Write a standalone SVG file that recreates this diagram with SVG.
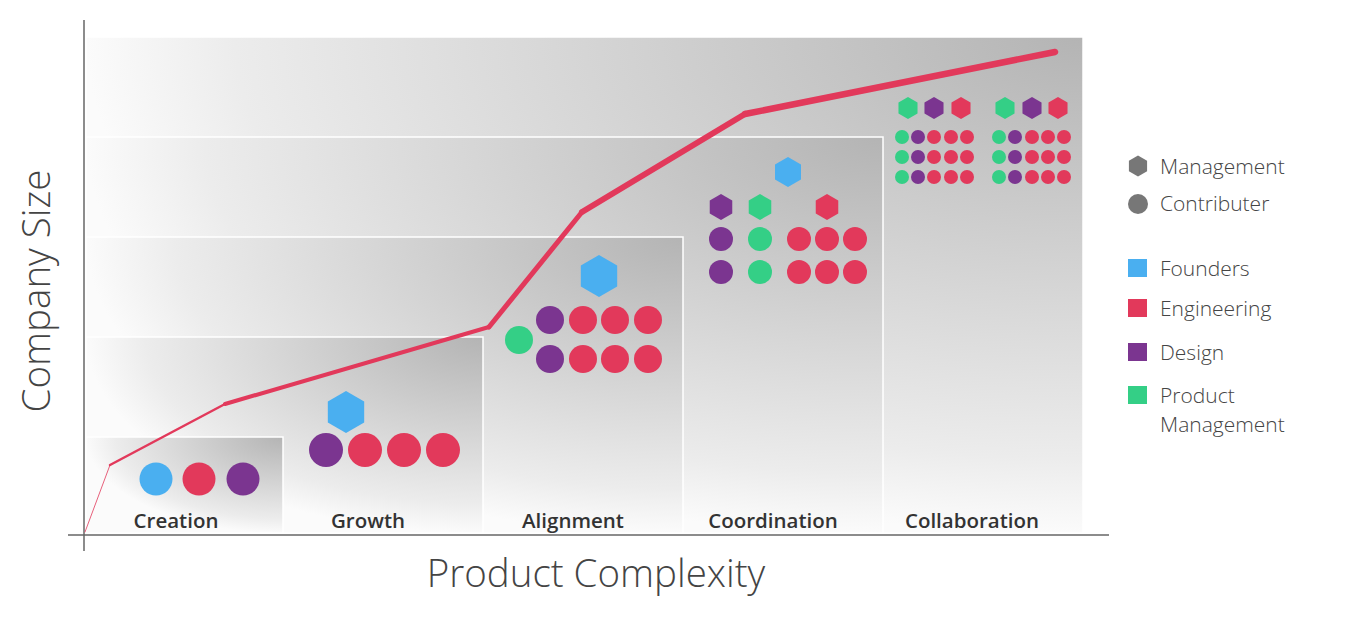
<svg xmlns="http://www.w3.org/2000/svg" width="1352" height="624" viewBox="0 0 1352 624">
<style>
.step{stroke:#fff;stroke-width:1.5}
.lbl{font-family:"Open Sans","Liberation Sans",sans-serif;font-weight:600;font-size:20.5px;fill:#333;text-anchor:middle}
.axis{font-family:"Open Sans","Liberation Sans",sans-serif;font-weight:300;font-size:38.5px;fill:#444;text-anchor:middle}
.leg{font-family:"Open Sans","Liberation Sans",sans-serif;font-weight:300;font-size:21px;fill:#444}
.b{fill:#4aaff0}.r{fill:#e2395b}.p{fill:#7b3590}.g{fill:#34cf86}.gr{fill:#777}
.curve{fill:none;stroke:#e2395b;stroke-linecap:round;stroke-linejoin:round}
</style>
<defs>
<radialGradient id="sg" cx="1" cy="0" fx="1" fy="0" r="1">
<stop offset="0" stop-color="#b4b4b4"/>
<stop offset="0.5" stop-color="#d5d5d5"/>
<stop offset="0.85" stop-color="#ececec"/>
<stop offset="1" stop-color="#fbfbfb"/>
</radialGradient>
<polygon id="hx" points="0,-1 0.866,-0.5 0.866,0.5 0,1 -0.866,0.5 -0.866,-0.5"/>
</defs>
<rect width="1352" height="624" fill="#fff"/>

<g id="steps">
<rect class="step" x="86" y="37" width="997" height="496" fill="url(#sg)"/>
<rect class="step" x="86" y="137" width="797" height="396" fill="url(#sg)"/>
<rect class="step" x="86" y="237" width="597" height="296" fill="url(#sg)"/>
<rect class="step" x="86" y="337" width="397" height="196" fill="url(#sg)"/>
<rect class="step" x="86" y="437" width="197" height="96" fill="url(#sg)"/>
</g>

<g id="axes" stroke="#666" stroke-width="1.5">
<line x1="84" y1="20" x2="84" y2="551"/>
<line x1="68" y1="535" x2="1109" y2="535"/>
</g>

<g id="connectors">
<path class="curve" d="M85,532 L110,465" stroke-width="1" opacity="0.8"/>
<path class="curve" d="M110,465 L225,404" stroke-width="2.5"/>
<path class="curve" d="M225,404 L489,327" stroke-width="4"/>
<path class="curve" d="M489,327 L582,212" stroke-width="5"/>
<path class="curve" d="M582,212 L745,114" stroke-width="6"/>
<path class="curve" d="M745,114 L1055,52" stroke-width="6.5"/>
</g>

<g id="creation">
<circle class="b" cx="156" cy="479" r="16.5"/>
<circle class="r" cx="199" cy="479" r="16.5"/>
<circle class="p" cx="243" cy="479" r="16.5"/>
<text class="lbl" x="176" y="528">Creation</text>
</g>

<g id="growth">
<use href="#hx" class="b" transform="translate(346,412) scale(21)"/>
<circle class="p" cx="326" cy="450" r="17"/>
<circle class="r" cx="365" cy="450" r="17"/>
<circle class="r" cx="404" cy="450" r="17"/>
<circle class="r" cx="443" cy="450" r="17"/>
<text class="lbl" x="368" y="528">Growth</text>
</g>

<g id="alignment">
<use href="#hx" class="b" transform="translate(599,276) scale(21)"/>
<circle class="g" cx="519" cy="340" r="14"/>
<circle class="p" cx="550" cy="320" r="14"/>
<circle class="r" cx="583" cy="320" r="14"/>
<circle class="r" cx="615" cy="320" r="14"/>
<circle class="r" cx="648" cy="320" r="14"/>
<circle class="p" cx="550" cy="359" r="14"/>
<circle class="r" cx="583" cy="359" r="14"/>
<circle class="r" cx="615" cy="359" r="14"/>
<circle class="r" cx="648" cy="359" r="14"/>
<text class="lbl" x="573" y="528">Alignment</text>
</g>

<g id="coordination">
<use href="#hx" class="b" transform="translate(788,172) scale(15)"/>
<use href="#hx" class="p" transform="translate(721,207) scale(13)"/>
<use href="#hx" class="g" transform="translate(760,207) scale(13)"/>
<use href="#hx" class="r" transform="translate(827,207) scale(13)"/>
<circle class="p" cx="721" cy="239" r="12"/>
<circle class="g" cx="760" cy="239" r="12"/>
<circle class="r" cx="799" cy="239" r="12"/>
<circle class="r" cx="827" cy="239" r="12"/>
<circle class="r" cx="855" cy="239" r="12"/>
<circle class="p" cx="721" cy="272" r="12"/>
<circle class="g" cx="760" cy="272" r="12"/>
<circle class="r" cx="799" cy="272" r="12"/>
<circle class="r" cx="827" cy="272" r="12"/>
<circle class="r" cx="855" cy="272" r="12"/>
<text class="lbl" x="773" y="528">Coordination</text>
</g>

<g id="collaboration">
<use href="#hx" class="g" transform="translate(908,108) scale(11)"/>
<use href="#hx" class="p" transform="translate(934,108) scale(11)"/>
<use href="#hx" class="r" transform="translate(961,108) scale(11)"/>
<use href="#hx" class="g" transform="translate(1005,108) scale(11)"/>
<use href="#hx" class="p" transform="translate(1032,108) scale(11)"/>
<use href="#hx" class="r" transform="translate(1058,108) scale(11)"/>
<g id="collab-left">
<circle class="g" cx="902" cy="137" r="7"/><circle class="p" cx="918" cy="137" r="7"/><circle class="r" cx="934" cy="137" r="7"/><circle class="r" cx="951" cy="137" r="7"/><circle class="r" cx="967" cy="137" r="7"/>
<circle class="g" cx="902" cy="157" r="7"/><circle class="p" cx="918" cy="157" r="7"/><circle class="r" cx="934" cy="157" r="7"/><circle class="r" cx="951" cy="157" r="7"/><circle class="r" cx="967" cy="157" r="7"/>
<circle class="g" cx="902" cy="177" r="7"/><circle class="p" cx="918" cy="177" r="7"/><circle class="r" cx="934" cy="177" r="7"/><circle class="r" cx="951" cy="177" r="7"/><circle class="r" cx="967" cy="177" r="7"/>
</g>
<g id="collab-right">
<circle class="g" cx="999" cy="137" r="7"/><circle class="p" cx="1015" cy="137" r="7"/><circle class="r" cx="1032" cy="137" r="7"/><circle class="r" cx="1048" cy="137" r="7"/><circle class="r" cx="1064" cy="137" r="7"/>
<circle class="g" cx="999" cy="157" r="7"/><circle class="p" cx="1015" cy="157" r="7"/><circle class="r" cx="1032" cy="157" r="7"/><circle class="r" cx="1048" cy="157" r="7"/><circle class="r" cx="1064" cy="157" r="7"/>
<circle class="g" cx="999" cy="177" r="7"/><circle class="p" cx="1015" cy="177" r="7"/><circle class="r" cx="1032" cy="177" r="7"/><circle class="r" cx="1048" cy="177" r="7"/><circle class="r" cx="1064" cy="177" r="7"/>
</g>
<text class="lbl" x="972" y="528">Collaboration</text>
</g>

<g id="axis-labels">
<text class="axis" transform="translate(50,291) rotate(-90)">Company Size</text>
<text class="axis" x="596" y="587">Product Complexity</text>
</g>

<g id="legend">
<use href="#hx" class="gr" transform="translate(1138,166) scale(10.5)"/>
<text class="leg" x="1160" y="174">Management</text>
<circle class="gr" cx="1138" cy="204" r="10"/>
<text class="leg" x="1160" y="211">Contributer</text>
<rect class="b" x="1128" y="259" width="19" height="18"/>
<text class="leg" x="1160" y="276">Founders</text>
<rect class="r" x="1128" y="299" width="19" height="18"/>
<text class="leg" x="1160" y="316">Engineering</text>
<rect class="p" x="1128" y="343" width="19" height="18"/>
<text class="leg" x="1160" y="360">Design</text>
<rect class="g" x="1128" y="386" width="19" height="18"/>
<text class="leg" x="1160" y="403">Product</text>
<text class="leg" x="1160" y="432">Management</text>
</g>
</svg>
